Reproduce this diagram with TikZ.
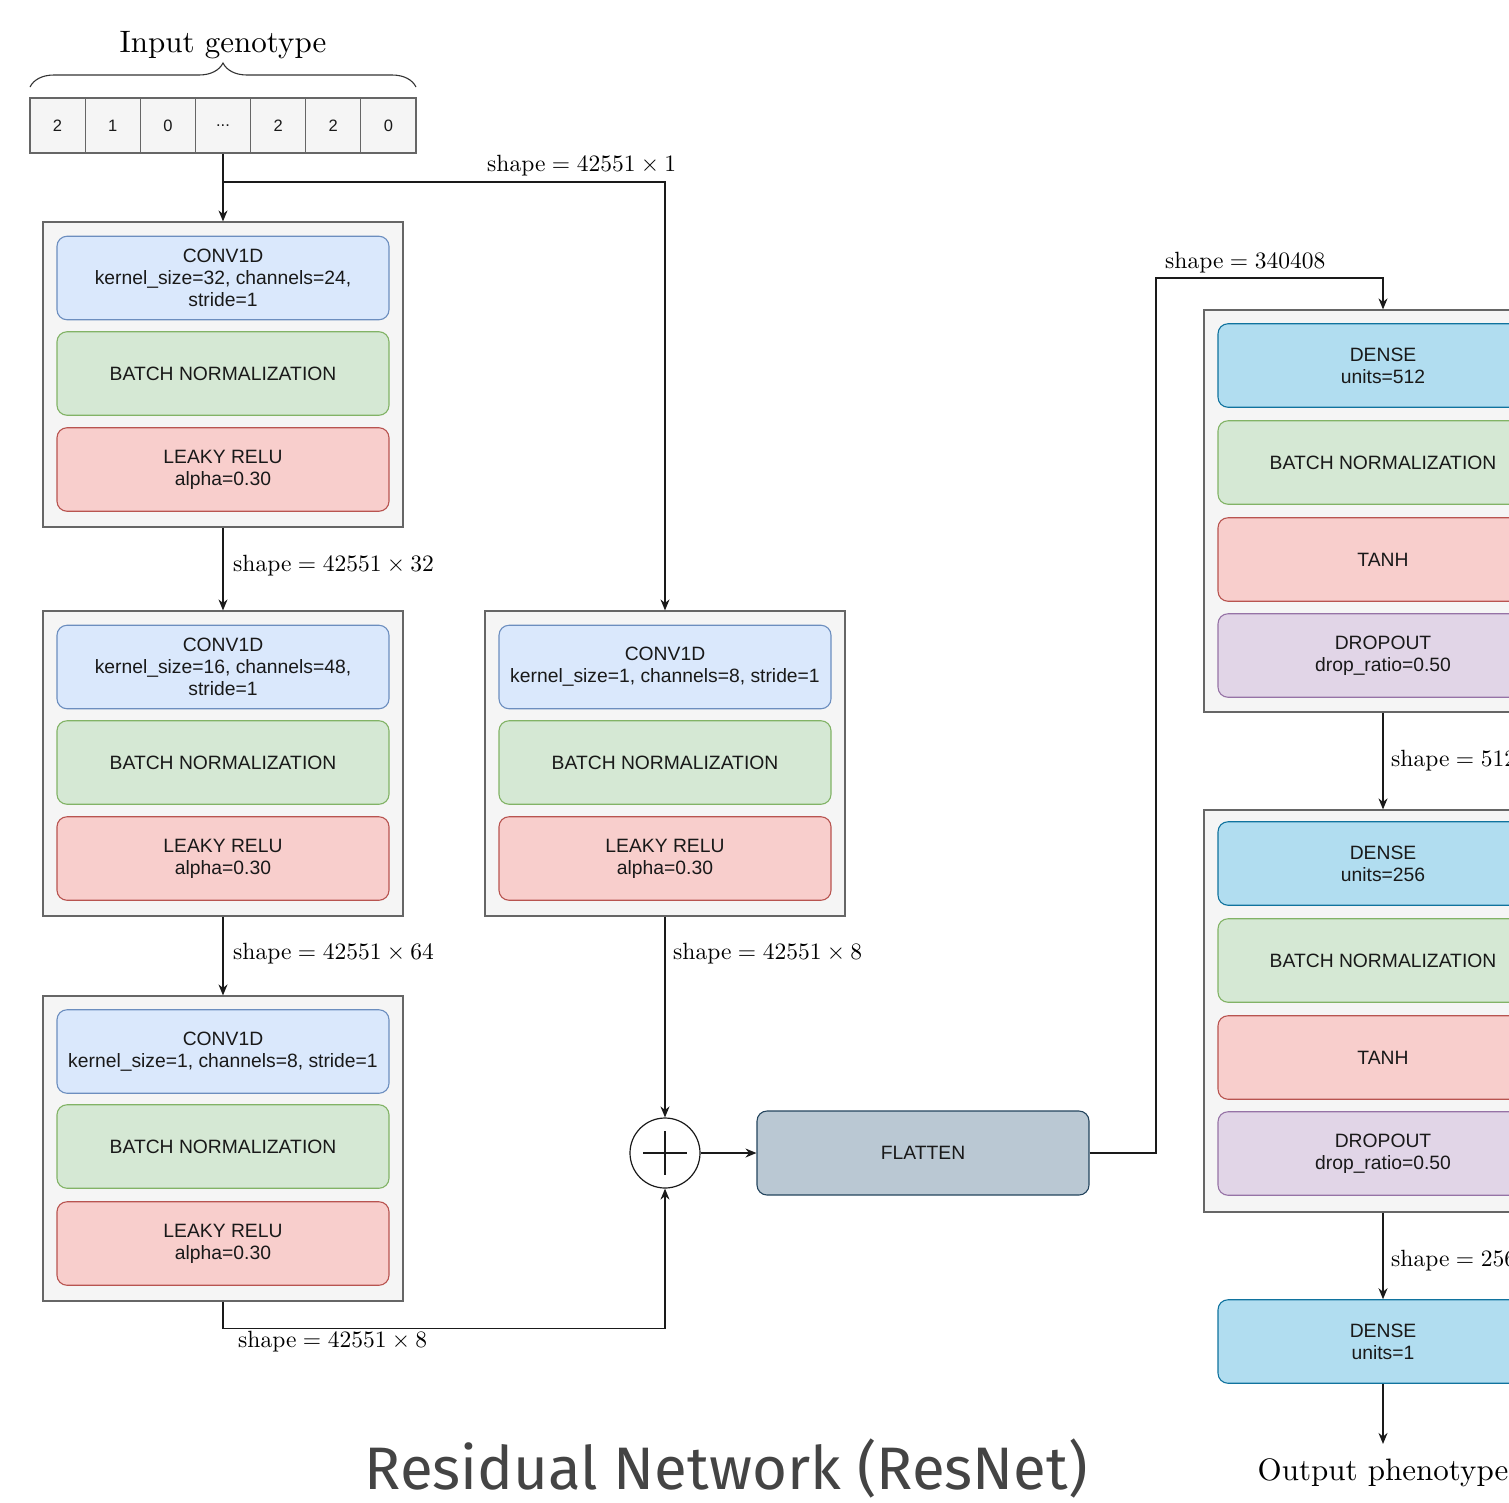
\documentclass[tikz,border=0pt]{standalone}
\usepackage{fontspec}
\newfontfamily\boxfont{Liberation Sans}
\newfontfamily\titlefont{Fira Sans}
\newfontfamily\cmten{lmroman10-regular.otf}
\usetikzlibrary{arrows.meta,decorations.pathreplacing,calc}

\definecolor{blockfill}{HTML}{F5F5F5}
\definecolor{blockline}{HTML}{666666}
\definecolor{convfill}{HTML}{DAE8FC}
\definecolor{convline}{HTML}{6C8EBF}
\definecolor{bnfill}{HTML}{D5E8D4}
\definecolor{bnline}{HTML}{82B366}
\definecolor{relufill}{HTML}{F8CECC}
\definecolor{reluline}{HTML}{B85450}
\definecolor{dropfill}{HTML}{E1D5E7}
\definecolor{dropline}{HTML}{9673A6}
\definecolor{densefill}{HTML}{B1DDF0}
\definecolor{denseline}{HTML}{10739E}
\definecolor{flatfill}{HTML}{BAC8D3}
\definecolor{flatline}{HTML}{23445D}
\definecolor{linecol}{HTML}{1A1A1A}
\definecolor{titlegray}{HTML}{444444}

% "shape = ..." label text with math-like spacing
\newcommand{\shapeeq}[1]{shape\hspace{.278em}=\hspace{.278em}#1}
\newcommand{\tms}{\hspace{.222em}×\hspace{.222em}}

\tikzset{
  blockbox/.style={draw=blockline, fill=blockfill, line width=1.2pt, inner sep=0pt,
    minimum width=360pt, minimum height=305pt},
  tallblock/.style={blockbox, minimum width=358pt, minimum height=402pt},
  layer/.style={rounded corners=10pt, line width=1.1pt, minimum width=332pt,
    minimum height=83.5pt, align=center, inner sep=0pt, text=black!90,
    font=\boxfont\fontsize{19.3}{22}\selectfont},
  convbox/.style={layer, draw=convline, fill=convfill},
  bnbox/.style={layer, draw=bnline, fill=bnfill},
  relubox/.style={layer, draw=reluline, fill=relufill},
  dropbox/.style={layer, draw=dropline, fill=dropfill},
  densebox/.style={layer, draw=denseline, fill=densefill},
  flatbox/.style={layer, draw=flatline, fill=flatfill},
  cellbox/.style={draw=blockline, fill=blockfill, line width=1.1pt,
    minimum width=55.14pt, minimum height=55pt, inner sep=0pt, text=black!90,
    font=\boxfont\fontsize{16.5}{18}\selectfont},
  conn/.style={draw=linecol, line width=1.4pt},
  arr/.style={conn, -{Stealth[length=11pt, width=9pt]}},
  shapelbl/.style={font=\cmten\fontsize{23.5}{28}\selectfont, inner sep=0pt, text=black},
  serifbig/.style={font=\cmten\fontsize{31}{36}\selectfont, inner sep=0pt, text=black},
}

\begin{document}
\begin{tikzpicture}[x=1pt, y=-1pt]
\useasboundingbox (0,0) rectangle (1509,1502);
\clip (0,0) rectangle (1509,1502);

% input genotype vector
\node[serifbig, anchor=base] (intitle) at (223,52) {Input genotype};
\node[cellbox] (c1) at (57.57,125.5) {2};
\node[cellbox] (c2) at (112.71,125.5) {1};
\node[cellbox] (c3) at (167.85,125.5) {0};
\node[cellbox] (c4) at (223,125.5) {...};
\node[cellbox] (c5) at (278.13,125.5) {2};
\node[cellbox] (c6) at (333.27,125.5) {2};
\node[cellbox] (c7) at (388.41,125.5) {0};
\draw[draw=black!80, line width=1.1pt, decorate,
      decoration={brace, amplitude=24pt, aspect=0.5}] (30,87) -- (416,87);

% first convolution path
\node[blockbox] (b1) at (223,374.5) {};
\node[convbox] (b1c) at (223,278) {CONV1D\\kernel\_size=32, channels=24,\\stride=1};
\node[bnbox] (b1n) at (223,373.5) {BATCH NORMALIZATION};
\node[relubox] (b1r) at (223,469.5) {LEAKY RELU\\alpha=0.30};

\node[blockbox] (b2) at (223,763.5) {};
\node[convbox] (b2c) at (223,667) {CONV1D\\kernel\_size=16, channels=48,\\stride=1};
\node[bnbox] (b2n) at (223,762.5) {BATCH NORMALIZATION};
\node[relubox] (b2r) at (223,858.5) {LEAKY RELU\\alpha=0.30};

\node[blockbox] (b3) at (223,1148.5) {};
\node[convbox] (b3c) at (223,1051.5) {CONV1D\\kernel\_size=1, channels=8, stride=1};
\node[bnbox] (b3n) at (223,1146.5) {BATCH NORMALIZATION};
\node[relubox] (b3r) at (223,1243.5) {LEAKY RELU\\alpha=0.30};

% shortcut path
\node[blockbox] (b4) at (665,763.5) {};
\node[convbox] (b4c) at (665,667) {CONV1D\\kernel\_size=1, channels=8, stride=1};
\node[bnbox] (b4n) at (665,762.5) {BATCH NORMALIZATION};
\node[relubox] (b4r) at (665,858.5) {LEAKY RELU\\alpha=0.30};

% addition and flatten
\node[circle, draw=linecol, fill=white, line width=1.2pt, minimum size=70pt, inner sep=0pt] (plus) at (665,1153) {};
\draw[conn, line width=1.1pt] ($(plus.center)+(-22,0)$) -- ($(plus.center)+(22,0)$);
\draw[conn, line width=1.1pt] ($(plus.center)+(0,-22)$) -- ($(plus.center)+(0,22)$);
\node[flatbox, minimum height=84pt] (fl) at (923,1153) {FLATTEN};

% dense head
\node[tallblock] (b5) at (1383,511) {};
\node[densebox, minimum width=330pt] (b5d) at (1383,365.5) {DENSE\\units=512};
\node[bnbox, minimum width=330pt] (b5n) at (1383,462.5) {BATCH NORMALIZATION};
\node[relubox, minimum width=330pt] (b5t) at (1383,559.5) {TANH};
\node[dropbox, minimum width=330pt] (b5o) at (1383,655.5) {DROPOUT\\drop\_ratio=0.50};

\node[tallblock] (b6) at (1383,1011) {};
\node[densebox, minimum width=330pt] (b6d) at (1383,863.5) {DENSE\\units=256};
\node[bnbox, minimum width=330pt] (b6n) at (1383,960.5) {BATCH NORMALIZATION};
\node[relubox, minimum width=330pt] (b6t) at (1383,1057.5) {TANH};
\node[dropbox, minimum width=330pt] (b6o) at (1383,1153.5) {DROPOUT\\drop\_ratio=0.50};

\node[densebox, minimum width=330pt] (d3) at (1383,1341.5) {DENSE\\units=1};
\node[serifbig, anchor=base] (out) at (1383,1480) {Output phenotype};

% connectors
\coordinate (split) at (223,182);
\coordinate (turn) at (1156,278);
\draw[arr] (c4.south) -- (b1.north);
\draw[arr] (split) -| (b4.north);
\node[shapelbl, anchor=west] (l0) at (487,166) {\shapeeq{42551\tms 1}};

\draw[arr] (b1.south) -- (b2.north);
\node[shapelbl, anchor=west] (l1) at (233,566) {\shapeeq{42551\tms 32}};
\draw[arr] (b2.south) -- (b3.north);
\node[shapelbl, anchor=west] (l2) at (233,954) {\shapeeq{42551\tms 64}};

\draw[arr] (b3.south) -- ++(0,27) -| (plus.south);
\node[shapelbl, anchor=west] (l3) at (238,1342) {\shapeeq{42551\tms 8}};
\draw[arr] (b4.south) -- (plus.north);
\node[shapelbl, anchor=west] (l4) at (673,954) {\shapeeq{42551\tms 8}};

\draw[arr] (plus.east) -- (fl.west);
\draw[arr] (fl.east) -| (turn) -| (b5.north);
\node[shapelbl, anchor=west] (l5) at (1165,263) {\shapeeq{340408}};

\draw[arr] (b5.south) -- (b6.north);
\node[shapelbl, anchor=west] (l6) at (1391,761) {\shapeeq{512}};
\draw[arr] (b6.south) -- (d3.north);
\node[shapelbl, anchor=west] (l7) at (1391,1261) {\shapeeq{256}};
\draw[arr, shorten >=14pt] (d3.south) -- (out.north);

% caption
\node[font=\titlefont\fontsize{60}{60}\selectfont, text=titlegray, anchor=base, inner sep=0pt]
  (title) at (726,1489) {Residual Network (ResNet)};
\end{tikzpicture}
\end{document}
